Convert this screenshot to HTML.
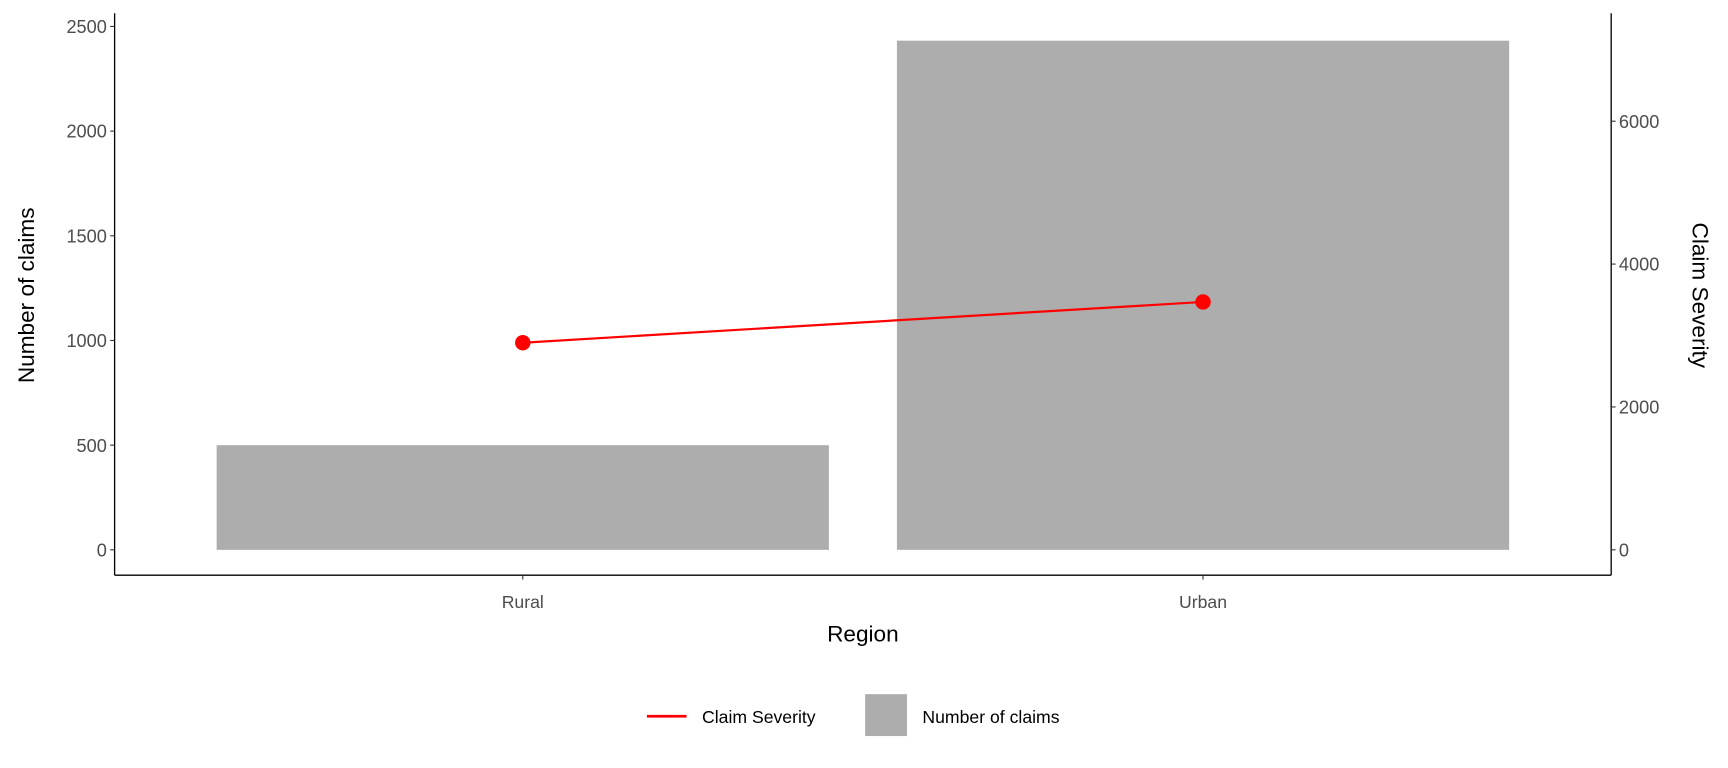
<!DOCTYPE html>
<html><head><meta charset="utf-8"><style>
html,body{margin:0;padding:0;background:#fff;}
svg{display:block;font-family:"Liberation Sans",Arial,sans-serif;}
</style></head><body>
<svg id="chart" width="1728" height="768" viewBox="0 0 1568 697" preserveAspectRatio="none">
<g id="g"></g>
</svg>
<script>
const categories = ["Rural", "Urban"];
const claimCounts = [500, 2432];
const severities = [2899, 3470];
const leftTicks = [0, 500, 1000, 1500, 2000, 2500];
const rightTicks = [0, 2000, 4000, 6000];

const NS = "http://www.w3.org/2000/svg";
const g = document.getElementById("g");
function mk(tag, attrs, text) {
  const e = document.createElementNS(NS, tag);
  for (const k in attrs) e.setAttribute(k, attrs[k]);
  if (text !== undefined) e.textContent = text;
  g.appendChild(e);
  return e;
}
const plotL = 104, plotR = 1462, plotB = 522, plotT = 12;
const yZero = 499;
const yL = v => yZero - v * (475 / 2500);
const yR = v => yZero - v * (389 / 6000);
const band = (plotR - plotL) / (categories.length + 0.2);
const xC = i => plotL + band * (0.6 + i);
const barW = band * 0.9;

categories.forEach((c, i) => {
  const b = mk("rect", {x: xC(i) - barW / 2, y: yL(claimCounts[i]), width: barW, height: yZero - yL(claimCounts[i]), fill: "#adadad"});
  
  
});
const pts = categories.map((c, i) => xC(i) + "," + yR(severities[i])).join(" ");
const ln = mk("polyline", {points: pts, fill: "none", stroke: "#ff0000", "stroke-width": 2});


categories.forEach((c, i) => {
  const p = mk("circle", {cx: xC(i), cy: yR(severities[i]), r: 7, fill: "#ff0000"});
  
  
});

const ax1 = mk("line", {x1: plotL, y1: plotT, x2: plotL, y2: plotB, stroke: "#000", "stroke-width": 1.2});


const ax2 = mk("line", {x1: plotR, y1: plotT, x2: plotR, y2: plotB, stroke: "#000", "stroke-width": 1.2});


const ax3 = mk("line", {x1: plotL, y1: plotB, x2: plotR, y2: plotB, stroke: "#000", "stroke-width": 1.2});



leftTicks.forEach(v => {
  mk("line", {x1: plotL - 4, y1: yL(v), x2: plotL, y2: yL(v), stroke: "#333"});
  const t = mk("text", {x: plotL - 7, y: yL(v) + 6, "text-anchor": "end", "font-size": 16.5, fill: "#4d4d4d"}, v);
  
  
});
rightTicks.forEach(v => {
  mk("line", {x1: plotR, y1: yR(v), x2: plotR + 4, y2: yR(v), stroke: "#333"});
  const t = mk("text", {x: plotR + 7, y: yR(v) + 6, "text-anchor": "start", "font-size": 16.5, fill: "#4d4d4d"}, v);
  
  
});
categories.forEach((c, i) => {
  mk("line", {x1: xC(i), y1: plotB, x2: xC(i), y2: plotB + 4, stroke: "#333"});
  const t = mk("text", {x: xC(i), y: plotB + 30, "text-anchor": "middle", "font-size": 16, fill: "#4d4d4d"}, c);
  
  
});

const xt = mk("text", {x: (plotL + plotR) / 2, y: 582, "text-anchor": "middle", "font-size": 20.5, fill: "#000"}, "Region");


const yt = mk("text", {x: 0, y: 0, "text-anchor": "middle", "font-size": 20.5, fill: "#000", transform: "translate(31,268) rotate(-90)"}, "Number of claims");


const yt2 = mk("text", {x: 0, y: 0, "text-anchor": "middle", "font-size": 20.5, fill: "#000", transform: "translate(1536,268) rotate(90)"}, "Claim Severity");



const l1 = mk("line", {x1: 587, y1: 650, x2: 623, y2: 650, stroke: "#ff0000", "stroke-width": 2.5});


const lt1 = mk("text", {x: 637, y: 656, "font-size": 16, fill: "#000"}, "Claim Severity");


const l2 = mk("rect", {x: 785, y: 630, width: 38, height: 38, fill: "#adadad"});


const lt2 = mk("text", {x: 837, y: 656, "font-size": 16, fill: "#000"}, "Number of claims");


</script>
</body></html>
